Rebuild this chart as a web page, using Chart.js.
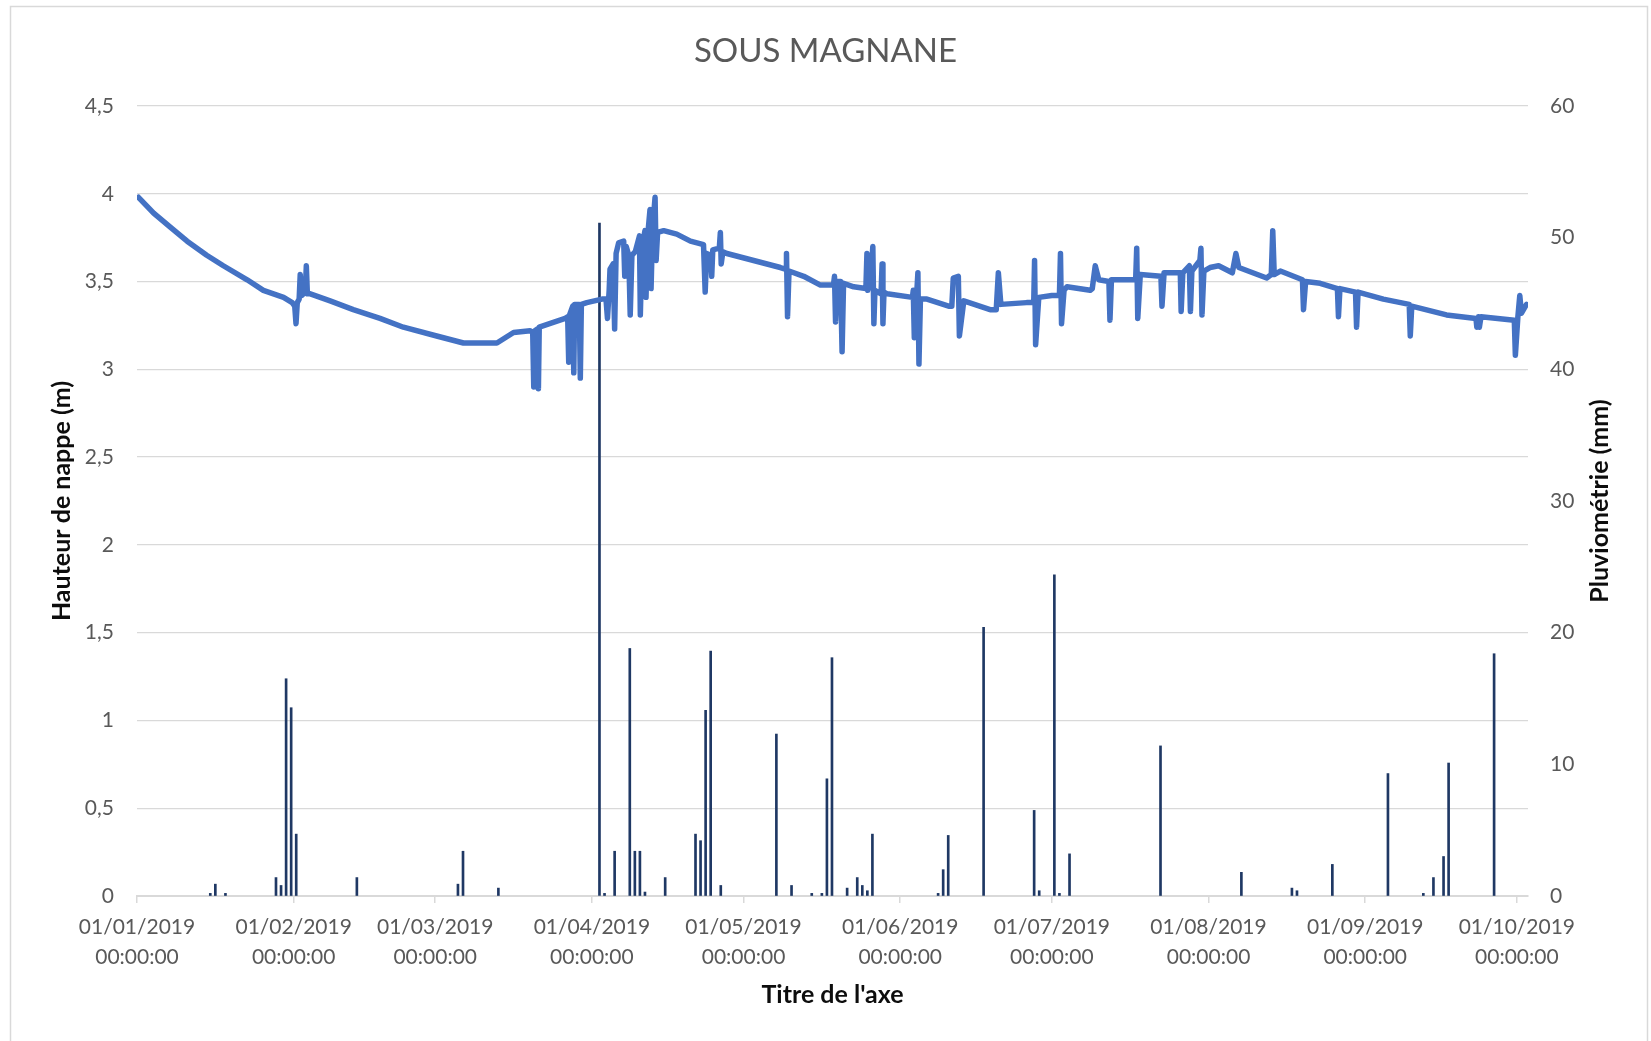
<!DOCTYPE html>
<html>
<head>
<meta charset="utf-8">
<script src="https://cdn.jsdelivr.net/npm/chart.js@4.4.1/dist/chart.umd.min.js"></script>
<style>
  html, body { margin: 0; padding: 0; background: #ffffff; }
  #wrap { width: 1651px; height: 1041px; position: relative; }
</style>
</head>
<body>
<div id="wrap"><canvas id="c"></canvas></div>
<script>
// ---------------- DATA ----------------
const chartTitle = 'SOUS MAGNANE';
const leftAxisTitle = 'Hauteur de nappe (m)';
const rightAxisTitle = 'Pluviométrie (mm)';
const xAxisTitle = "Titre de l'axe";

const tickDates = ['01/01/2019', '01/02/2019', '01/03/2019', '01/04/2019', '01/05/2019',
                   '01/06/2019', '01/07/2019', '01/08/2019', '01/09/2019', '01/10/2019'];
const tickTime = '00:00:00';
const axisEnd = '03/10 05:00';

// Water table height (m)
const levelTimes = [
  '01/01 07:00','04/01 07:00','07/01 14:00','10/01 22:00','14/01 19:00','18/01 02:00','22/01 19:00','26/01 00:00',
  '30/01 00:00','31/01 17:00','01/02 05:00','01/02 11:00','01/02 17:00','02/02 02:00','02/02 07:00','02/02 14:00',
  '03/02 07:00','03/02 12:00','03/02 17:00','04/02 07:00','08/02 05:00','12/02 19:00','18/02 02:00','22/02 17:00',
  '01/03 07:00','06/03 14:00','13/03 05:00','16/03 12:00','19/03 19:00','20/03 07:00','20/03 12:00','20/03 17:00',
  '21/03 05:00','21/03 10:00','21/03 14:00','26/03 17:00','27/03 05:00','27/03 10:00','27/03 14:00','28/03 05:00',
  '28/03 10:00','28/03 14:00','29/03 12:00','29/03 17:00','29/03 22:00','31/03 00:00','03/04 00:00','03/04 19:00',
  '04/04 02:00','04/04 10:00','04/04 14:00','05/04 05:00','05/04 12:00','05/04 19:00','06/04 07:00','07/04 07:00',
  '07/04 12:00','07/04 19:00','08/04 07:00','08/04 14:00','08/04 22:00','09/04 14:00','10/04 10:00','10/04 14:00',
  '10/04 22:00','11/04 12:00','11/04 17:00','12/04 00:00','12/04 12:00','12/04 17:00','13/04 00:00','13/04 12:00',
  '13/04 17:00','14/04 00:00','15/04 05:00','17/04 19:00','20/04 12:00','23/04 02:00','23/04 10:00','23/04 17:00',
  '24/04 12:00','24/04 17:00','24/04 22:00','26/04 05:00','26/04 10:00','26/04 14:00','26/04 22:00','27/04 17:00',
  '03/05 00:00','08/05 07:00','09/05 10:00','09/05 12:00','09/05 17:00','10/05 00:00','12/05 22:00','16/05 05:00',
  '18/05 19:00','19/05 00:00','19/05 05:00','19/05 12:00','20/05 05:00','20/05 12:00','20/05 19:00','22/05 19:00',
  '25/05 05:00','25/05 10:00','25/05 14:00','26/05 10:00','26/05 14:00','26/05 19:00','27/05 00:00','28/05 05:00',
  '28/05 10:00','28/05 14:00','28/05 19:00','29/05 10:00','03/06 10:00','03/06 14:00','03/06 19:00','04/06 05:00',
  '04/06 12:00','04/06 17:00','05/06 00:00','06/06 07:00','10/06 14:00','11/06 05:00','11/06 12:00','12/06 12:00',
  '12/06 17:00','13/06 14:00','18/06 19:00','20/06 00:00','20/06 10:00','20/06 22:00','26/06 00:00','27/06 10:00',
  '27/06 14:00','27/06 19:00','28/06 10:00','01/07 00:00','02/07 12:00','02/07 17:00','02/07 22:00','03/07 10:00',
  '04/07 00:00','08/07 14:00','09/07 00:00','09/07 14:00','10/07 07:00','12/07 07:00','12/07 12:00','12/07 19:00',
  '17/07 14:00','17/07 19:00','18/07 00:00','18/07 12:00','22/07 14:00','22/07 19:00','23/07 05:00','26/07 10:00',
  '26/07 14:00','26/07 22:00','28/07 05:00','28/07 10:00','28/07 17:00','30/07 07:00','30/07 12:00','30/07 17:00',
  '31/07 02:00','01/08 07:00','03/08 00:00','05/08 17:00','06/08 10:00','07/08 00:00','12/08 12:00','13/08 10:00',
  '13/08 17:00','14/08 00:00','15/08 05:00','19/08 14:00','19/08 19:00','20/08 05:00','23/08 02:00','26/08 12:00',
  '26/08 17:00','27/08 00:00','30/08 02:00','30/08 07:00','30/08 14:00','04/09 14:00','09/09 17:00','09/09 22:00',
  '10/09 05:00','17/09 02:00','22/09 22:00','23/09 02:00','23/09 10:00','23/09 14:00','23/09 22:00','30/09 12:00',
  '30/09 17:00','01/10 05:00','01/10 14:00','01/10 22:00','02/10 22:00'
];
const levelValues = [
  3.98, 3.89, 3.81, 3.73, 3.65, 3.59, 3.51, 3.45,
  3.41, 3.38, 3.36, 3.26, 3.38, 3.40, 3.54, 3.42,
  3.44, 3.59, 3.43, 3.43, 3.39, 3.34, 3.29, 3.24,
  3.19, 3.15, 3.15, 3.21, 3.22, 3.21, 2.90, 3.22,
  3.23, 2.89, 3.24, 3.29, 3.30, 3.04, 3.31, 3.36,
  2.98, 3.37, 3.37, 2.95, 3.37, 3.38, 3.40, 3.40,
  3.29, 3.45, 3.57, 3.60, 3.23, 3.66, 3.72, 3.73,
  3.53, 3.70, 3.65, 3.31, 3.65, 3.67, 3.76, 3.31,
  3.70, 3.79, 3.41, 3.75, 3.91, 3.46, 3.80, 3.98,
  3.62, 3.78, 3.79, 3.77, 3.73, 3.71, 3.44, 3.66,
  3.65, 3.53, 3.68, 3.69, 3.78, 3.60, 3.67, 3.66,
  3.62, 3.58, 3.57, 3.66, 3.30, 3.56, 3.53, 3.48,
  3.48, 3.53, 3.27, 3.50, 3.50, 3.10, 3.49, 3.47,
  3.46, 3.66, 3.45, 3.62, 3.70, 3.26, 3.45, 3.43,
  3.60, 3.26, 3.44, 3.43, 3.41, 3.45, 3.18, 3.40,
  3.55, 3.03, 3.40, 3.40, 3.36, 3.36, 3.52, 3.53,
  3.19, 3.39, 3.34, 3.34, 3.55, 3.37, 3.38, 3.38,
  3.62, 3.14, 3.41, 3.42, 3.42, 3.66, 3.26, 3.45,
  3.47, 3.45, 3.46, 3.59, 3.51, 3.50, 3.28, 3.51,
  3.51, 3.69, 3.29, 3.54, 3.53, 3.36, 3.55, 3.55,
  3.33, 3.55, 3.59, 3.33, 3.56, 3.62, 3.69, 3.31,
  3.56, 3.58, 3.59, 3.55, 3.66, 3.58, 3.52, 3.54,
  3.79, 3.54, 3.56, 3.51, 3.34, 3.50, 3.49, 3.46,
  3.30, 3.46, 3.44, 3.24, 3.44, 3.40, 3.37, 3.19,
  3.36, 3.31, 3.29, 3.24, 3.30, 3.24, 3.30, 3.28,
  3.08, 3.30, 3.42, 3.32, 3.37
];

// Daily rainfall (mm)
const rainDates = [
  '15/01','16/01','18/01','28/01','29/01','30/01','31/01','01/02','13/02',
  '05/03','06/03','13/03','02/04','03/04','05/04','08/04','09/04','10/04','11/04',
  '15/04','21/04','22/04','23/04','24/04','26/04','07/05','10/05','14/05','16/05',
  '17/05','18/05','21/05','23/05','24/05','25/05','26/05','08/06','09/06','10/06',
  '17/06','27/06','28/06','01/07','02/07','04/07','22/07','07/08','17/08','18/08',
  '25/08','05/09','12/09','14/09','16/09','17/09','26/09'
];
const rainValues = [
  0.2, 0.9, 0.2, 1.4, 0.8, 16.5, 14.3, 4.7, 1.4,
  0.9, 3.4, 0.6, 51.1, 0.2, 3.4, 18.8, 3.4, 3.4, 0.3,
  1.4, 4.7, 4.2, 14.1, 18.6, 0.8, 12.3, 0.8, 0.2, 0.2,
  8.9, 18.1, 0.6, 1.4, 0.8, 0.4, 4.7, 0.2, 2.0, 4.6,
  20.4, 6.5, 0.4, 24.4, 0.2, 3.2, 11.4, 1.8, 0.6, 0.4,
  2.4, 9.3, 0.2, 1.4, 3.0, 10.1, 18.4
];

// ---------------- HELPERS ----------------
const YEAR = 2019;
const T0 = Date.UTC(YEAR, 0, 1);
function dayOf(str) {
  // 'DD/MM', 'DD/MM/YYYY' or 'DD/MM HH:MM' -> days since 01/01
  const [datePart, timePart] = str.split(' ');
  const p = datePart.split('/').map(Number);
  let h = 0, m = 0;
  if (timePart) { const t = timePart.split(':').map(Number); h = t[0]; m = t[1]; }
  return (Date.UTC(YEAR, p[1] - 1, p[0], h, m) - T0) / 86400000;
}
const levelData = levelTimes.map((t, i) => ({ x: dayOf(t), y: levelValues[i] }));
// daily totals are drawn centred in their day slot
const rainData = rainDates.map((d, i) => ({ x: dayOf(d) + 0.5, y: rainValues[i] }));

const FONT = 'Lato';
const GREY = '#595959';
const GRID = '#D9D9D9';
const DARK = '#0d0d0d';

const decorPlugin = {
  id: 'decor',
  beforeDraw(chart) {
    const ctx = chart.ctx;
    ctx.save();
    ctx.fillStyle = '#ffffff';
    ctx.fillRect(0, 0, chart.width, chart.height);
    ctx.strokeStyle = GRID;
    ctx.lineWidth = 1.5;
    ctx.strokeRect(10.5, 6.5, chart.width - 14, chart.height + 20);
    ctx.restore();
  },
  afterDraw(chart) {
    const ctx = chart.ctx;
    const a = chart.chartArea;
    ctx.save();
    ctx.translate(1600, (a.top + a.bottom) / 2);
    ctx.rotate(-Math.PI / 2);
    ctx.textAlign = 'center';
    ctx.textBaseline = 'middle';
    ctx.fillStyle = DARK;
    ctx.font = 'bold 25px ' + FONT;
    ctx.fillText(rightAxisTitle, 0, 0);
    ctx.restore();
  }
};

const chart = new Chart(document.getElementById('c'), {
  type: 'line',
  data: {
    datasets: [
      {
        type: 'line',
        label: 'Hauteur de nappe',
        data: levelData,
        yAxisID: 'y',
        borderColor: '#4472C4',
        backgroundColor: '#4472C4',
        borderWidth: 5.5,
        pointRadius: 0,
        tension: 0,
        borderJoinStyle: 'round',
        borderCapStyle: 'round',
        order: 0
      },
      {
        type: 'bar',
        label: 'Pluviométrie',
        data: rainData,
        yAxisID: 'y2',
        backgroundColor: '#1F3864',
        barThickness: 2,
        order: 1
      }
    ]
  },
  options: {
    responsive: true,
    maintainAspectRatio: false,
    devicePixelRatio: 1,
    animation: false,
    layout: { padding: { top: 0, left: 0, right: 0, bottom: 0 } },
    plugins: {
      legend: { display: false },
      tooltip: { enabled: false },
      title: {
        display: true,
        text: chartTitle,
        color: GREY,
        font: { family: FONT, size: 33, weight: 'normal' },
        padding: { top: 32, bottom: 34.4 }
      }
    },
    scales: {
      x: {
        type: 'linear',
        min: 0,
        max: dayOf(axisEnd),
        offset: false,
        afterBuildTicks: (s) => { s.ticks = tickDates.map(d => ({ value: dayOf(d) })); },
        afterFit: (s) => { s.height = 145; },
        ticks: {
          autoSkip: false,
          maxRotation: 0,
          minRotation: 0,
          padding: 9,
          color: GREY,
          font: { family: FONT, size: 21, lineHeight: 30 / 21 },
          callback: (v, i) => [tickDates[i], tickTime]
        },
        grid: { drawOnChartArea: false, drawTicks: true, tickLength: 7, color: GRID, lineWidth: 1.5, offset: false },
        border: { display: true, color: GRID, width: 2 },
        title: {
          display: true,
          text: xAxisTitle,
          color: DARK,
          font: { family: FONT, size: 25, weight: 'bold' },
          padding: { top: 0, bottom: 31 }
        }
      },
      y: {
        type: 'linear',
        position: 'left',
        min: 0,
        max: 4.5,
        afterFit: (s) => { s.width = 137; },
        ticks: {
          stepSize: 0.5,
          padding: 23,
          color: GREY,
          font: { family: FONT, size: 21 },
          callback: (v) => String(v).replace('.', ',')
        },
        grid: { color: GRID, lineWidth: 1.3, drawTicks: false },
        border: { display: false },
        title: {
          display: true,
          text: leftAxisTitle,
          color: DARK,
          font: { family: FONT, size: 25, weight: 'bold' },
          padding: { top: 47, bottom: 0 }
        }
      },
      y2: {
        type: 'linear',
        position: 'right',
        min: 0,
        max: 60,
        afterFit: (s) => { s.width = 123; },
        ticks: {
          stepSize: 10,
          padding: 22,
          color: GREY,
          font: { family: FONT, size: 21 }
        },
        grid: { drawOnChartArea: false, drawTicks: false },
        border: { display: false }
      }
    }
  },
  plugins: [decorPlugin]
});
</script>
</body>
</html>
